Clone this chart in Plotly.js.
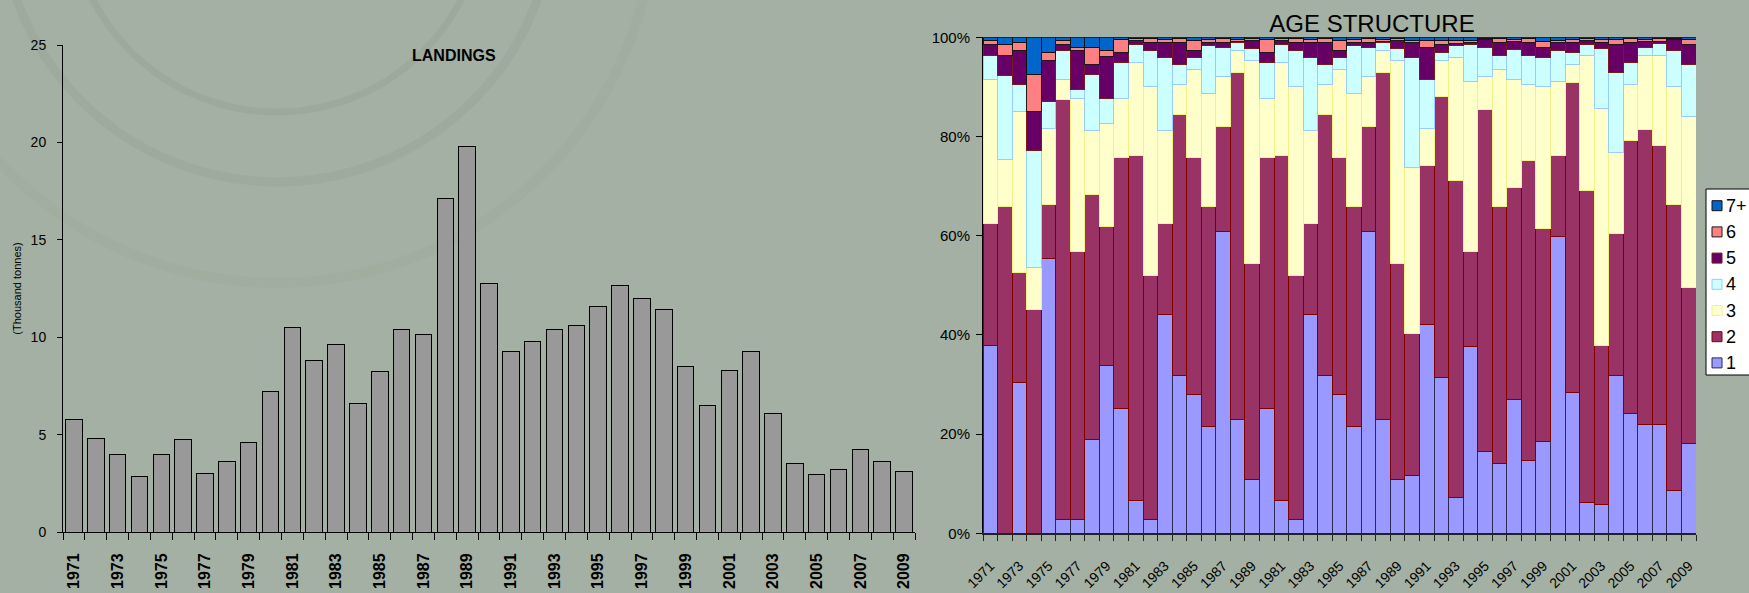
<!DOCTYPE html>
<html>
<head>
<meta charset="utf-8">
<script src="https://cdn.plot.ly/plotly-3.0.1.min.js"></script>
<style>
html,body{margin:0;padding:0;background:#a4b0a3;}
#chart{width:1749px;height:593px;}
</style>
</head>
<body>
<div id="chart"></div>
<script>
// ---------- LANDINGS (thousand tonnes) ----------
const landingYears = ['1971','1972','1973','1974','1975','1976','1977','1978','1979','1980',
  '1981','1982','1983','1984','1985','1986','1987','1988','1989','1990',
  '1991','1992','1993','1994','1995','1996','1997','1998','1999','2000',
  '2001','2002','2003','2004','2005','2006','2007','2008','2009'];
const landings = [5.8, 4.8, 4.0, 2.85, 4.0, 4.75, 3.0, 3.6, 4.6, 7.2,
  10.5, 8.8, 9.6, 6.6, 8.25, 10.4, 10.15, 17.1, 19.8, 12.75,
  9.25, 9.8, 10.4, 10.6, 11.6, 12.65, 12.0, 11.4, 8.5, 6.5,
  8.3, 9.25, 6.1, 3.5, 2.95, 3.2, 4.25, 3.6, 3.1];

// ---------- AGE STRUCTURE (category labels exactly as in the source chart) ----------
const ageYears = ['1971','1972','1973','1974','1975','1976','1977','1978','1979','1980',
  '1981','1982','1983','1984','1985','1986','1987','1988','1989',
  '1980','1981','1982','1983','1984','1985','1986','1987','1988','1989',
  '1990','1991','1992','1993','1994','1995','1996','1997','1998','1999',
  '2000','2001','2002','2003','2004','2005','2006','2007','2008','2009'];
const age1 = [37.8, 0, 30.4, 0, 55.4, 2.8, 2.8, 19.0, 33.9, 25.1,
  6.7, 2.8, 44.2, 31.9, 28.0, 21.5, 60.9, 23.0, 10.8,
  25.1, 6.7, 2.8, 44.2, 31.9, 28.0, 21.5, 60.9, 23.0, 10.8,
  11.7, 42.1, 31.4, 7.2, 37.6, 16.5, 14.1, 26.9, 14.6, 18.5,
  59.9, 28.4, 6.3, 5.8, 31.9, 24.1, 22.0, 22.0, 8.7, 18.1];
const age2 = [24.6, 65.8, 22.1, 45.2, 10.9, 84.7, 54.1, 49.3, 27.9, 50.6,
  69.4, 49.2, 18.2, 52.6, 47.7, 44.3, 21.2, 69.9, 43.6,
  50.6, 69.4, 49.2, 18.2, 52.6, 47.7, 44.3, 21.2, 69.9, 43.6,
  28.5, 32.0, 56.6, 64.0, 19.3, 69.0, 51.7, 42.9, 60.5, 42.9,
  16.2, 62.5, 62.9, 32.0, 28.5, 55.0, 59.5, 56.1, 57.6, 31.5];
const age3 = [29.1, 9.5, 32.6, 8.4, 15.4, 4.0, 30.7, 13.0, 20.8, 11.9,
  18.9, 38.1, 18.9, 6.0, 17.8, 22.8, 10.0, 4.5, 41.0,
  11.9, 18.9, 38.1, 18.9, 6.0, 17.8, 22.8, 10.0, 4.5, 41.0,
  33.6, 7.5, 7.4, 24.7, 34.2, 6.6, 27.7, 21.7, 15.4, 28.7,
  15.0, 3.7, 27.2, 47.8, 16.3, 11.4, 14.9, 18.3, 23.8, 34.5];
const age4 = [4.9, 17.1, 5.4, 23.6, 5.3, 5.9, 1.9, 11.2, 5.0, 7.4,
  3.5, 7.3, 14.6, 4.0, 2.4, 9.7, 5.8, 1.5, 2.4,
  7.4, 3.5, 7.3, 14.6, 4.0, 2.4, 9.7, 5.8, 1.5, 2.4,
  22.1, 9.8, 1.5, 2.4, 7.4, 5.8, 2.9, 6.1, 5.9, 5.8,
  6.3, 2.4, 2.1, 12.2, 16.2, 4.5, 1.6, 2.4, 7.3, 10.5];
const age5 = [2.1, 4.0, 6.9, 7.9, 8.4, 1.1, 7.9, 2.0, 8.5, 2.0,
  0.8, 1.6, 3.0, 4.4, 1.5, 0.6, 1.1, 0.3, 1.5,
  2.0, 0.8, 1.6, 3.0, 4.4, 1.5, 0.6, 1.1, 0.3, 1.5,
  3.0, 6.5, 1.6, 0.5, 0.5, 1.6, 2.5, 1.6, 2.6, 2.1,
  1.5, 1.9, 0.8, 1.1, 5.6, 4.0, 1.1, 0.3, 2.1, 3.9];
const age6 = [0.8, 2.1, 1.5, 7.4, 1.6, 0.9, 0.6, 3.4, 1.3, 2.5,
  0.4, 0.8, 0.6, 0.8, 1.9, 0.6, 0.7, 0.4, 0.4,
  2.5, 0.4, 0.8, 0.6, 0.8, 1.9, 0.6, 0.7, 0.4, 0.4,
  0.5, 1.4, 0.8, 0.5, 0.4, 0.3, 0.8, 0.4, 0.8, 1.2,
  0.4, 0.6, 0.4, 0.6, 1.0, 0.8, 0.4, 0.6, 0.2, 1.0];
const age7plus = [0.7, 1.5, 1.1, 7.5, 3.0, 0.6, 2.0, 2.1, 2.6, 0.5,
  0.3, 0.2, 0.5, 0.3, 0.7, 0.5, 0.3, 0.4, 0.3,
  0.5, 0.3, 0.2, 0.5, 0.3, 0.7, 0.5, 0.3, 0.4, 0.3,
  0.6, 0.7, 0.7, 0.7, 0.6, 0.2, 0.3, 0.4, 0.2, 0.8,
  0.7, 0.5, 0.3, 0.5, 0.5, 0.2, 0.5, 0.3, 0.3, 0.5];

const ageSeries = [age1, age2, age3, age4, age5, age6, age7plus];
const ageNames = ['1', '2', '3', '4', '5', '6', '7+'];
const ageFill = ['#9999ff', '#993366', '#ffffcc', '#ccffff', '#660066', '#ff8080', '#0066cc'];
const ageEdge = ['#2a2a55', '#800000', '#f2f28a', '#99ccff', '#7a1a1a', '#1a1a1a', '#111111'];

// ---------- geometry helpers (pixels -> paper) ----------
const W = 1749, H = 593;
const px = x => x / W;
const py = y => 1 - y / H;
const FONT = 'Liberation Sans, Arial, sans-serif';

const landIdx = landingYears.map((_, i) => i);
const landTickVals = landIdx.filter(i => i % 2 === 0);
const landTickText = landTickVals.map(i => landingYears[i]);
const landBounds = landingYears.map((_, i) => i - 0.5).concat([landingYears.length - 0.5]);

const ageIdx = ageYears.map((_, i) => i);
const ageTickVals = ageIdx.filter(i => i % 2 === 0);
const ageTickText = ageTickVals.map(i => ageYears[i]);
const ageBounds = ageYears.map((_, i) => i - 0.5).concat([ageYears.length - 0.5]);

const traces = [{
  type: 'bar', name: 'Landings', x: landIdx, y: landings,
  xaxis: 'x', yaxis: 'y', width: 0.76,
  marker: {color: '#999999', line: {color: '#000000', width: 1}},
  showlegend: false, hoverinfo: 'y'
}];
ageSeries.forEach((s, k) => {
  traces.push({
    type: 'bar', name: ageNames[k], x: ageIdx, y: s,
    xaxis: 'x2', yaxis: 'y2',
    marker: {color: ageFill[k], line: {color: ageEdge[k], width: 1}},
    showlegend: false
  });
});

const shapes = [];
const annotations = [];
// faint decorative arcs of the slide background
[[277, -95, 207, 'rgba(110,130,110,0.13)', 7],
 [277, -95, 277, 'rgba(110,130,110,0.11)', 9],
 [277, -95, 378, 'rgba(110,130,110,0.06)', 10]].forEach(a => {
  shapes.push({type: 'circle', xref: 'paper', yref: 'paper', layer: 'below',
    x0: px(a[0] - a[2]), x1: px(a[0] + a[2]), y0: py(a[1] + a[2]), y1: py(a[1] - a[2]),
    line: {color: a[3], width: a[4]}});
});
// legend box (Excel-style, at the right edge)
shapes.push({type: 'rect', xref: 'paper', yref: 'paper', layer: 'above',
  x0: px(1706), x1: px(1765), y0: py(375), y1: py(189),
  fillcolor: '#ffffff', line: {color: '#000000', width: 1}});
for (let k = 0; k < ageNames.length; k++) {
  const s = ageNames.length - 1 - k;       // 7+ on top
  const cy = 205.7 + 26.2 * k;
  shapes.push({type: 'rect', xref: 'paper', yref: 'paper', layer: 'above',
    x0: px(1712), x1: px(1722), y0: py(cy + 5), y1: py(cy - 5),
    fillcolor: ageFill[s], line: {color: ageEdge[s], width: 1}});
  annotations.push({xref: 'paper', yref: 'paper', x: px(1724), y: py(cy),
    xanchor: 'left', yanchor: 'middle', showarrow: false, text: ageNames[s],
    font: {family: FONT, size: 18, color: '#000000'}});
}
annotations.push({xref: 'paper', yref: 'paper', x: px(454), y: py(55),
  xanchor: 'center', yanchor: 'middle', showarrow: false, text: 'LANDINGS',
  font: {family: FONT, size: 16, color: '#000000', weight: 'bold'}});

const layout = {
  width: W, height: H,
  margin: {l: 0, r: 0, t: 0, b: 0, pad: 0},
  paper_bgcolor: '#a4b0a3', plot_bgcolor: 'rgba(0,0,0,0)',
  font: {family: FONT, color: '#000000'},
  barmode: 'stack', bargap: 0,
  showlegend: false,
  title: {text: 'AGE STRUCTURE', xref: 'container', yref: 'container',
    x: px(1372), xanchor: 'center', y: py(24), yanchor: 'middle',
    font: {family: FONT, size: 24, color: '#000000'}},
  xaxis: {
    domain: [px(63), px(915)], anchor: 'y', range: [-0.5, landingYears.length - 0.5],
    tickmode: 'array', tickvals: landTickVals, ticktext: landTickText,
    tickangle: -90, ticks: '', ticklabelstandoff: 14,
    tickfont: {family: FONT, size: 16, color: '#000000', weight: 'bold'},
    minor: {tickmode: 'array', tickvals: landBounds, ticks: 'outside', ticklen: 7,
      tickcolor: '#000000', tickwidth: 1, showgrid: false},
    showline: true, linecolor: '#000000', linewidth: 1,
    showgrid: false, zeroline: false, fixedrange: true
  },
  yaxis: {
    domain: [py(532), py(45)], anchor: 'x', range: [0, 25], dtick: 5,
    ticks: 'outside', ticklen: 5, tickcolor: '#000000', ticklabelstandoff: 8,
    tickfont: {family: FONT, size: 14, color: '#000000'},
    title: {text: '(Thousand tonnes)', standoff: 6,
      font: {family: FONT, size: 11, color: '#000000'}},
    showline: true, linecolor: '#000000', linewidth: 1,
    showgrid: false, zeroline: false, fixedrange: true
  },
  xaxis2: {
    domain: [px(983), px(1696)], anchor: 'y2', range: [-0.5, ageYears.length - 0.5],
    tickmode: 'array', tickvals: ageTickVals, ticktext: ageTickText,
    tickangle: -45, ticks: '', ticklabelstandoff: 17,
    tickfont: {family: FONT, size: 14, color: '#000000'},
    minor: {tickmode: 'array', tickvals: ageBounds, ticks: 'outside', ticklen: 6,
      tickcolor: '#222222', tickwidth: 1, showgrid: false},
    showline: true, linecolor: '#222222', linewidth: 2,
    showgrid: false, zeroline: false, fixedrange: true
  },
  yaxis2: {
    domain: [py(533.3), py(37.3)], anchor: 'x2', range: [0, 100], dtick: 20,
    ticksuffix: '%', ticks: 'outside', ticklen: 6, tickcolor: '#000000',
    ticklabelstandoff: 3,
    tickfont: {family: FONT, size: 15, color: '#000000'},
    showline: true, linecolor: '#000000', linewidth: 1,
    showgrid: false, zeroline: false, fixedrange: true
  },
  shapes: shapes,
  annotations: annotations
};

Plotly.newPlot('chart', traces, layout, {displayModeBar: false, staticPlot: true});
</script>
</body>
</html>
